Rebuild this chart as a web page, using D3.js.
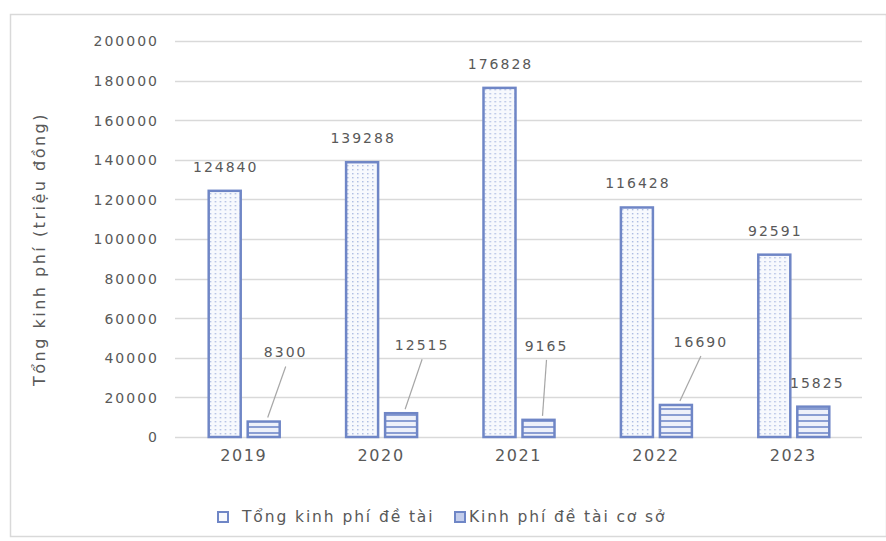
<!DOCTYPE html>
<html>
<head>
<meta charset="utf-8">
<script src="https://cdn.jsdelivr.net/npm/d3@7"></script>
<style>
  html, body { margin: 0; padding: 0; background: #ffffff; }
  svg text { font-family: "DejaVu Sans", sans-serif; fill: #595959; }
</style>
</head>
<body>
<svg id="chart" width="886" height="541"></svg>
<script>
// Funding per year (million VND)
const years = ["2019", "2020", "2021", "2022", "2023"];
const totalFunding = [124840, 139288, 176828, 116428, 92591];
const baseFunding = [8300, 12515, 9165, 16690, 15825];
const seriesNames = ["Tổng kinh phí đề tài", "Kinh phí đề tài cơ sở"];
const yTicks = [0, 20000, 40000, 60000, 80000, 100000, 120000, 140000, 160000, 180000, 200000];
const yTitle = "Tổng kinh phí (triệu đồng)";

// Hand-placed offsets for the small-bar labels (relative to bar centre / bar top)
const baseLabelOffsets = [[21, -68], [20, -67], [7, -73], [24, -62], [3, -23]];

const W = 886, H = 541;
const margin = { left: 175, right: 24, top: 41, bottom: 104 };
const blue = "#6f86c6";
const grid = "#d9d9d9";

const svg = d3.select("#chart");
const defs = svg.append("defs");

// Dotted fill for the total-funding bars
const dots = defs.append("pattern").attr("id", "dots")
  .attr("patternUnits", "userSpaceOnUse").attr("width", 5).attr("height", 4);
dots.append("rect").attr("width", 5).attr("height", 4).attr("fill", "#f7f9fd");
dots.append("rect").attr("x", 1).attr("y", 1).attr("width", 1.4).attr("height", 1.4).attr("fill", "#a9b8e0");

// Horizontal stripes for the base-funding bars
const stripes = defs.append("pattern").attr("id", "stripes")
  .attr("patternUnits", "userSpaceOnUse").attr("width", 6).attr("height", 6);
stripes.append("rect").attr("width", 6).attr("height", 6).attr("fill", "#eef1fa");
stripes.append("rect").attr("y", 0).attr("width", 6).attr("height", 2).attr("fill", "#8a9ed3");

// Outer chart frame
svg.append("rect").attr("x", 10.5).attr("y", 14.5).attr("width", 876).attr("height", 522)
  .attr("fill", "none").attr("stroke", "#d9d9d9").attr("stroke-width", 1.5);

const x = d3.scaleBand().domain(years).range([margin.left, W - margin.right]).padding(0);
const y = d3.scaleLinear().domain([0, 200000]).range([H - margin.bottom, margin.top]);

// Series within each year group
const xs = d3.scaleBand().domain([0, 1]).range([-36, 37]).paddingInner(5 / 39).paddingOuter(0);

// Gridlines
svg.append("g").selectAll("line").data(yTicks).join("line")
  .attr("x1", margin.left).attr("x2", W - margin.right)
  .attr("y1", d => Math.round(y(d)) + 0.5).attr("y2", d => Math.round(y(d)) + 0.5)
  .attr("stroke", grid).attr("stroke-width", 1.5);

// Y axis labels
const yAxis = d3.axisLeft(y).tickValues(yTicks).tickSize(0).tickPadding(0).tickFormat(d3.format("d"));
const gy = svg.append("g").attr("transform", `translate(159,0)`).call(yAxis);
gy.select(".domain").remove();
gy.selectAll("text").style("font-size", "14px").style("letter-spacing", "2px")
  .style("font-family", "DejaVu Sans").attr("fill", "#595959").attr("dy", "0.35em");

// X axis labels
const xAxis = d3.axisBottom(x).tickSize(0).tickPadding(0);
const gx = svg.append("g").attr("transform", `translate(0,${H - margin.bottom})`).call(xAxis);
gx.select(".domain").remove();
gx.selectAll("text").style("font-size", "16px").style("letter-spacing", "1.6px")
  .style("font-family", "DejaVu Sans").attr("fill", "#595959").attr("dy", "1.5em");

const groups = svg.append("g").selectAll("g").data(years).join("g")
  .attr("transform", d => `translate(${x(d) + x.bandwidth() / 2},0)`);

// Total funding bars
groups.append("rect")
  .attr("x", xs(0) + 1).attr("width", xs.bandwidth() - 2)
  .attr("y", (d, i) => y(totalFunding[i]) + 1)
  .attr("height", (d, i) => y(0) - y(totalFunding[i]) - 1)
  .attr("fill", "url(#dots)").attr("stroke", blue).attr("stroke-width", 2.5);

// Base funding bars
groups.append("rect")
  .attr("x", xs(1) + 1).attr("width", xs.bandwidth() - 2)
  .attr("y", (d, i) => y(baseFunding[i]) + 1)
  .attr("height", (d, i) => y(0) - y(baseFunding[i]) - 1)
  .attr("fill", "url(#stripes)").attr("stroke", blue).attr("stroke-width", 2.5);

// Total funding value labels
groups.append("text")
  .attr("x", xs(0) + xs.bandwidth() / 2 + 1)
  .attr("y", (d, i) => y(totalFunding[i]) - 23)
  .attr("dy", "0.35em").attr("text-anchor", "middle")
  .style("font-size", "14px").style("letter-spacing", "2px")
  .text((d, i) => totalFunding[i]);

// Base funding value labels, with leader lines where moved away from the bar
groups.each(function (d, i) {
  const g = d3.select(this);
  const bx = xs(1) + xs.bandwidth() / 2;
  const top = y(baseFunding[i]);
  const [dx, dy] = baseLabelOffsets[i];
  const lx = bx + dx, ly = top + dy;
  if (dy < -40) {
    g.append("line")
      .attr("x1", lx + 1).attr("y1", ly + 14)
      .attr("x2", bx + 4).attr("y2", top - 3)
      .attr("stroke", "#a6a6a6").attr("stroke-width", 1.2);
  }
  g.append("text")
    .attr("x", lx + 1).attr("y", ly).attr("dy", "0.35em").attr("text-anchor", "middle")
    .style("font-size", "14px").style("letter-spacing", "2px")
    .text(baseFunding[i]);
});

// Y axis title
svg.append("text")
  .attr("transform", "translate(39,249) rotate(-90)")
  .attr("text-anchor", "middle").attr("dy", "0.35em")
  .style("font-size", "16px").style("letter-spacing", "2.5px")
  .text(yTitle);

// Legend
const legendX = [218, 455];
const legend = svg.append("g").selectAll("g").data(seriesNames).join("g")
  .attr("transform", (d, i) => `translate(${legendX[i]},517)`);
legend.append("rect").attr("x", 0).attr("y", -5).attr("width", 10).attr("height", 10)
  .attr("fill", (d, i) => i === 0 ? "#f7f9fd" : "#c3cdeb").attr("stroke", blue).attr("stroke-width", 2);
legend.append("text").attr("x", (d, i) => i === 0 ? 24 : 14).attr("dy", "0.35em")
  .style("font-size", "15.5px").style("letter-spacing", "1.9px")
  .text(d => d);
</script>
</body>
</html>
